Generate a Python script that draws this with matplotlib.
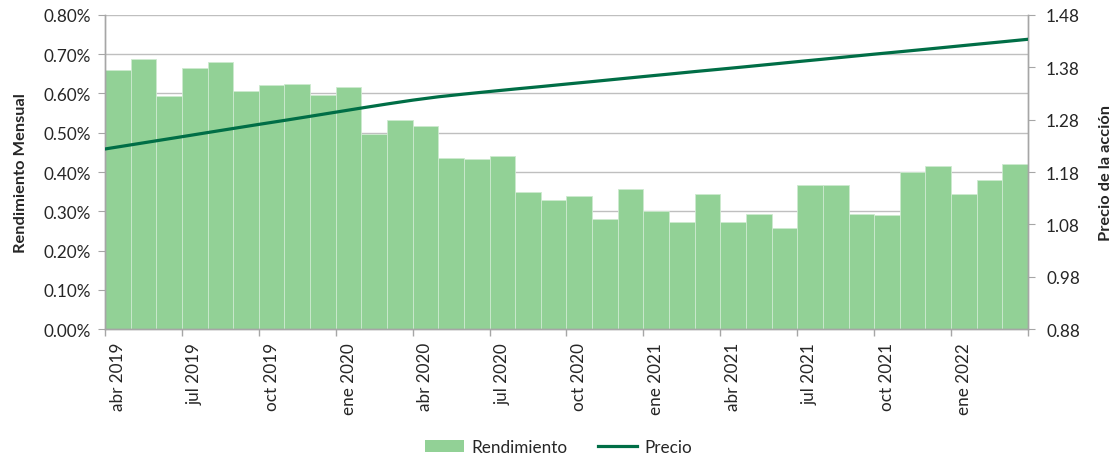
import matplotlib
matplotlib.use("Agg")
import matplotlib.pyplot as plt
from matplotlib.ticker import FuncFormatter, FixedLocator
from matplotlib.lines import Line2D
from matplotlib.patches import Patch

plt.rcParams['font.family'] = ['Lato', 'DejaVu Sans']

# Months: abr 2019 .. mar 2022
meses = ['abr 2019', 'may 2019', 'jun 2019', 'jul 2019', 'ago 2019', 'sep 2019',
         'oct 2019', 'nov 2019', 'dic 2019', 'ene 2020', 'feb 2020', 'mar 2020',
         'abr 2020', 'may 2020', 'jun 2020', 'jul 2020', 'ago 2020', 'sep 2020',
         'oct 2020', 'nov 2020', 'dic 2020', 'ene 2021', 'feb 2021', 'mar 2021',
         'abr 2021', 'may 2021', 'jun 2021', 'jul 2021', 'ago 2021', 'sep 2021',
         'oct 2021', 'nov 2021', 'dic 2021', 'ene 2022', 'feb 2022', 'mar 2022']

# Monthly return (%)
rendimiento = [0.660, 0.688, 0.594, 0.665, 0.679, 0.607, 0.622, 0.625, 0.596, 0.617,
               0.496, 0.531, 0.518, 0.435, 0.432, 0.441, 0.348, 0.328, 0.340, 0.280,
               0.358, 0.300, 0.274, 0.343, 0.272, 0.293, 0.258, 0.368, 0.366, 0.293,
               0.290, 0.399, 0.414, 0.343, 0.379, 0.421]

# Share price at each month boundary (start of abr 2019 .. end of mar 2022)
precio = [1.2239, 1.2317, 1.2395, 1.2473, 1.2552, 1.2630, 1.2708, 1.2784, 1.2862,
          1.2941, 1.3020, 1.3097, 1.3170, 1.3234, 1.3286, 1.3335, 1.3383, 1.3429,
          1.3477, 1.3524, 1.3572, 1.3620, 1.3667, 1.3715, 1.3761, 1.3808, 1.3856,
          1.3904, 1.3951, 1.3999, 1.4047, 1.4093, 1.4140, 1.4188, 1.4236, 1.4283,
          1.4331]

left_ticks = [0.0, 0.1, 0.2, 0.3, 0.4, 0.5, 0.6, 0.7, 0.8]
right_ticks = [0.88, 0.98, 1.08, 1.18, 1.28, 1.38, 1.48]

bar_color = '#92d196'
line_color = '#006e46'
axis_gray = '#a6a6a6'
grid_gray = '#bfbfbf'
text_color = '#262626'
fs = 12.3

fig = plt.figure(figsize=(11.17, 4.64), dpi=100)
ax = fig.add_axes([0.094, 0.2881, 0.8263, 0.6781])
ax2 = ax.twinx()

n = len(meses)
xs = [i + 0.5 for i in range(n)]
ax.bar(xs, rendimiento, width=1.0, color=bar_color, edgecolor='#cdeacf',
       linewidth=0.6, zorder=2)
ax.set_xlim(0, n)
ax.set_ylim(0, 0.8)
ax.yaxis.set_major_locator(FixedLocator(left_ticks))
ax.yaxis.set_major_formatter(FuncFormatter(lambda v, p: f"{v:.2f}%"))
ax.grid(axis='y', color=grid_gray, linewidth=1.0, zorder=0)
ax.set_axisbelow(True)

# x ticks: marks at quarter boundaries, labels at first month of each quarter
ax.set_xticks(list(range(0, n + 1, 3)))
ax.set_xticklabels([])
ax.set_xticks([i + 0.5 for i in range(0, n, 3)], minor=True)
ax.set_xticklabels([meses[i] for i in range(0, n, 3)], minor=True, rotation=90,
                   fontsize=fs, color=text_color)
ax.tick_params(axis='x', which='major', length=5, color=axis_gray, width=1)
ax.tick_params(axis='x', which='minor', length=0, pad=9)
ax.tick_params(axis='y', length=5, color=axis_gray, labelsize=fs,
               labelcolor=text_color, pad=5)

ax2.plot(list(range(n + 1)), precio, color=line_color, linewidth=2.3, zorder=3)
ax2.set_ylim(0.88, 1.48)
ax2.yaxis.set_major_locator(FixedLocator(right_ticks))
ax2.yaxis.set_major_formatter(FuncFormatter(lambda v, p: f"{v:.2f}"))
ax2.tick_params(axis='y', length=5, color=axis_gray, labelsize=fs,
                labelcolor=text_color, pad=8)

for a in (ax, ax2):
    a.spines['top'].set_visible(False)
    for s in ('left', 'right', 'bottom'):
        a.spines[s].set_color(axis_gray)
        a.spines[s].set_linewidth(1.0)

ax.set_ylabel('Rendimiento Mensual', fontsize=11.8, fontweight='bold',
              color=text_color)
ax.yaxis.set_label_coords(-0.083, 0.5)
ax2.set_ylabel('Precio de la acción', fontsize=11.8, fontweight='bold',
               color=text_color)
ax2.yaxis.set_label_coords(1.077, 0.5)

handles = [Patch(facecolor=bar_color, edgecolor='none', label='Rendimiento'),
           Line2D([0], [0], color=line_color, linewidth=2.3, label='Precio')]
fig.legend(handles=handles, loc='center', bbox_to_anchor=(0.5, 1 - 448 / 464),
           ncol=2, frameon=False, fontsize=fs, handlelength=2.3,
           columnspacing=1.8, handletextpad=0.4, labelcolor=text_color)

fig.savefig('out.png', dpi=100)
